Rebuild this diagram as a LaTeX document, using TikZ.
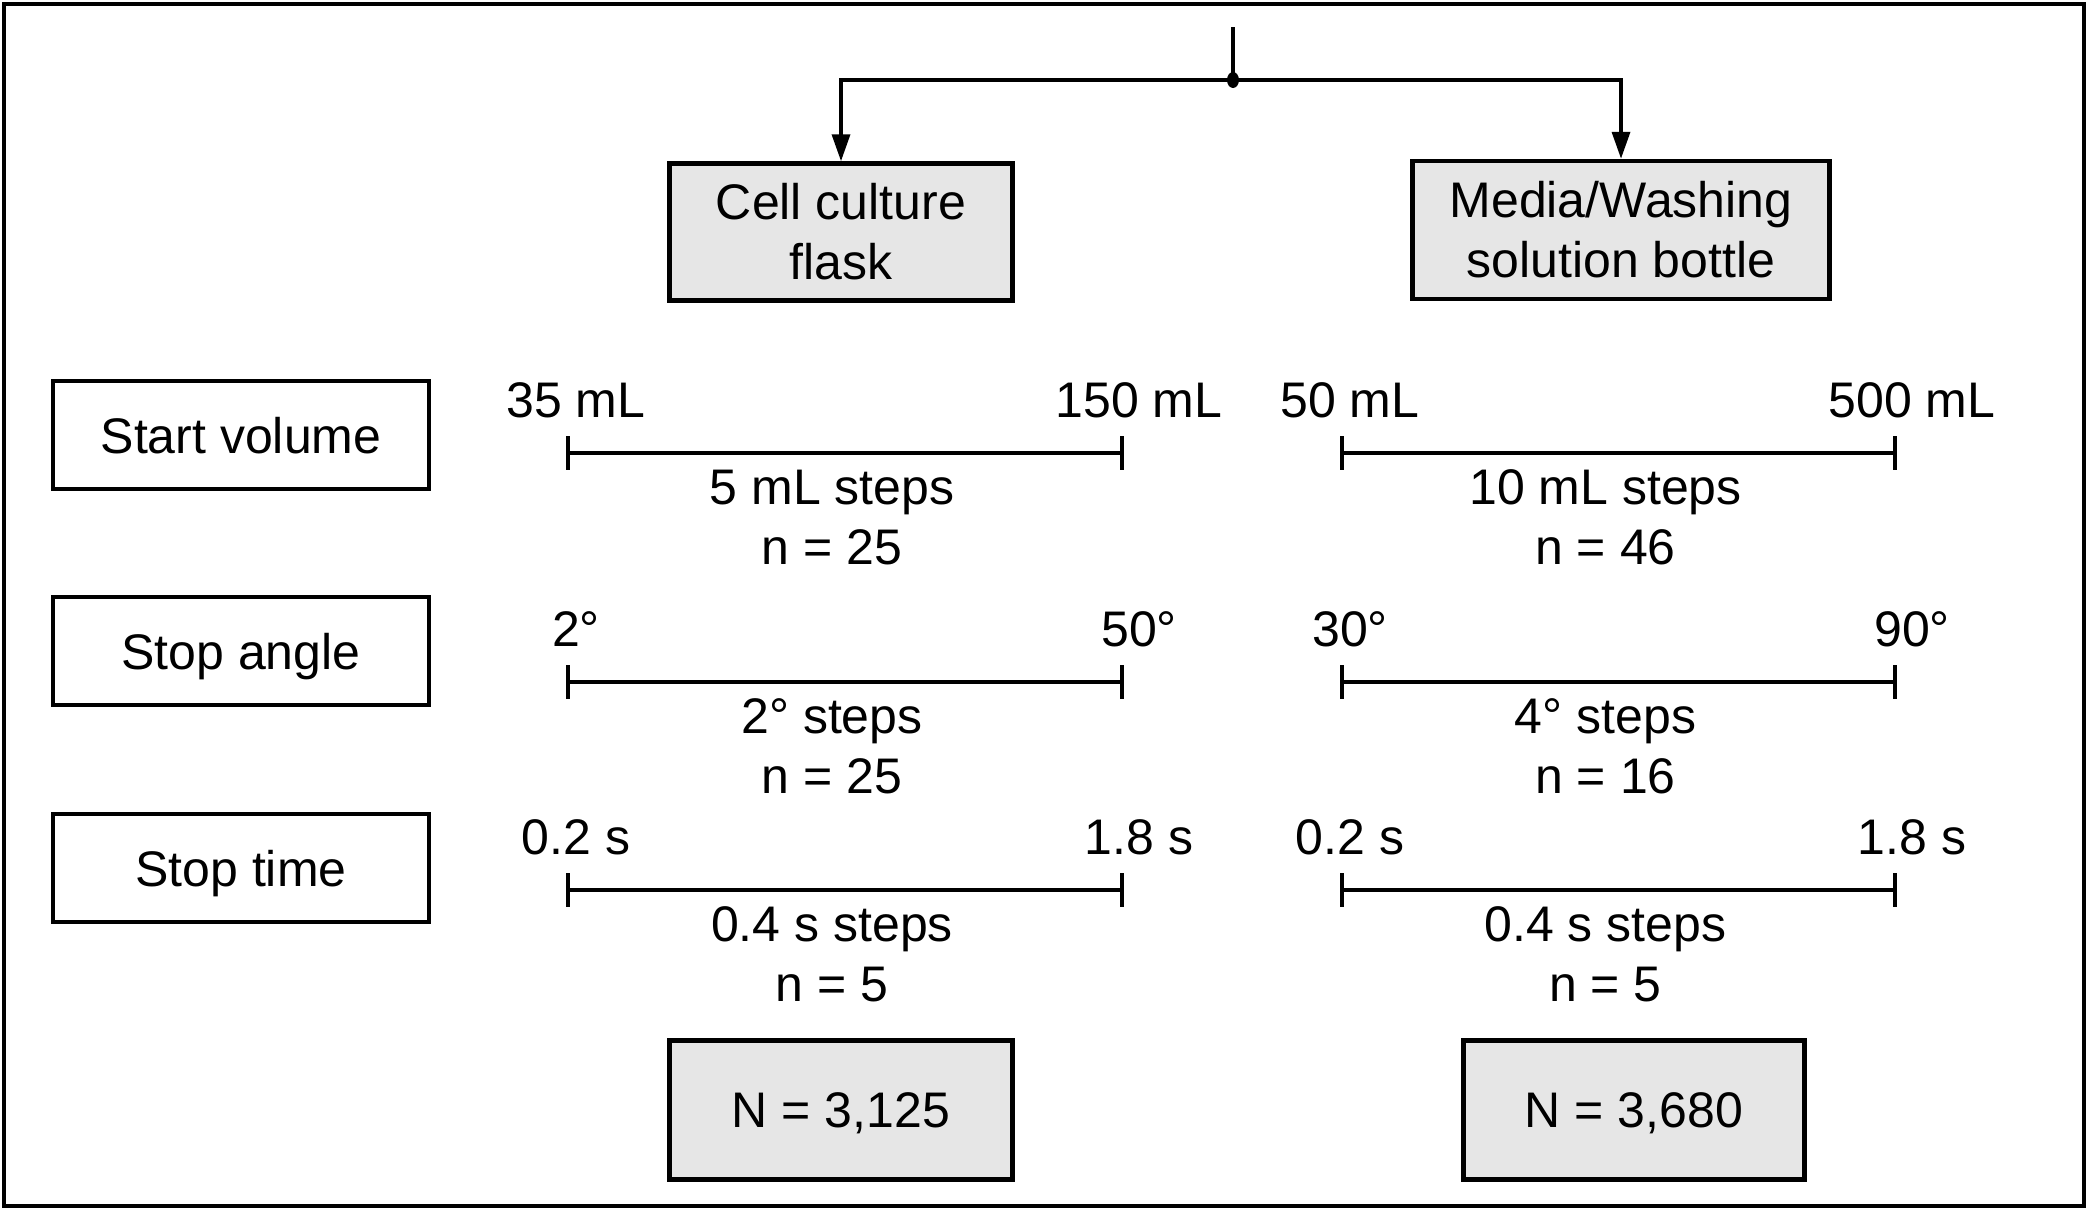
\documentclass[tikz,border=0pt]{standalone}
\usepackage{fontspec}
\setmainfont{Liberation Sans}
\usepackage{xcolor}
\usepackage{tikz}
\usetikzlibrary{positioning, calc, arrows.meta}

\definecolor{boxgray}{HTML}{E6E6E6}

\begin{document}
\begin{tikzpicture}[x=1pt, y=-1pt, font=\fontsize{50}{60}\selectfont,
    graybox/.style={draw, line width=4.5pt, fill=boxgray, align=center, inner sep=0pt},
    parambox/.style={draw, line width=4.5pt, minimum width=376pt, minimum height=108pt, inner sep=0pt, text height=36pt, text depth=0pt},
    scaleline/.style={line width=3.5pt},
    flow/.style={line width=3.5pt, -{Triangle[length=27pt, width=18pt]}}]

        \useasboundingbox (0,0) rectangle (2090,1210);

        % Outer frame
        \draw[line width=4.5pt] (4,4) rectangle (2084,1206);

        % Containers
        \node[graybox, minimum width=343pt, minimum height=137pt] (flask) at (841,232) {Cell culture\\flask};
        \node[graybox, minimum width=417pt, minimum height=138pt] (bottle) at (1621,230) {Media/Washing\\solution bottle};

        % Split to both containers
        \coordinate (src) at (1233,27);
        \coordinate (split) at (1233,80);
        \draw[line width=3.5pt] (src) -- (split);
        \draw[flow] (split) -| (flask.north);
        \draw[flow] (split) -| (bottle.north);
        \fill (split) ellipse (6pt and 8pt);

        % Parameter boxes
        \foreach \y/\name/\txt in {435/vol/Start volume, 651/ang/Stop angle, 868/time/Stop time} {
          \node[parambox] (\name) at (241,\y) {\txt};
        }

        % Parameter ranges
        \foreach \nm/\xa/\xb/\y/\lo/\hi/\st/\n in {
            volL/568/1122/453/35 mL/150 mL/5 mL steps/25,
            volR/1342/1895/453/50 mL/500 mL/10 mL steps/46,
            angL/568/1122/682/2°/50°/2° steps/25,
            angR/1342/1895/682/30°/90°/4° steps/16,
            timeL/568/1122/890/0.2 s/1.8 s/0.4 s steps/5,
            timeR/1342/1895/890/0.2 s/1.8 s/0.4 s steps/5} {
          \coordinate (\nm-a) at (\xa,\y);
          \coordinate (\nm-b) at (\xb,\y);
          \draw[scaleline] (\nm-a) -- (\nm-b);
          \draw[scaleline] ($(\nm-a)+(0,-17)$) -- ($(\nm-a)+(0,17)$);
          \draw[scaleline] ($(\nm-b)+(0,-17)$) -- ($(\nm-b)+(0,17)$);
          \node[anchor=base] (\nm-lo) at ($(\nm-a)+(8,-36)$) {\lo};
          \node[anchor=base] (\nm-hi) at ($(\nm-b)+(17,-36)$) {\hi};
          \node[anchor=base] (\nm-st) at ($(\nm-a)!0.5!(\nm-b)+(-13,51)$) {\st};
          \node[anchor=base] (\nm-n) at ($(\nm-a)!0.5!(\nm-b)+(-13,111)$) {n = \n};
        }

        % Totals
        \node[graybox, minimum width=343pt, minimum height=139pt, text depth=0pt] (totalL) at (841,1110) {N = 3,125};
        \node[graybox, minimum width=341pt, minimum height=139pt, text depth=0pt] (totalR) at (1634,1110) {N = 3,680};
      \end{tikzpicture}
\end{document}
